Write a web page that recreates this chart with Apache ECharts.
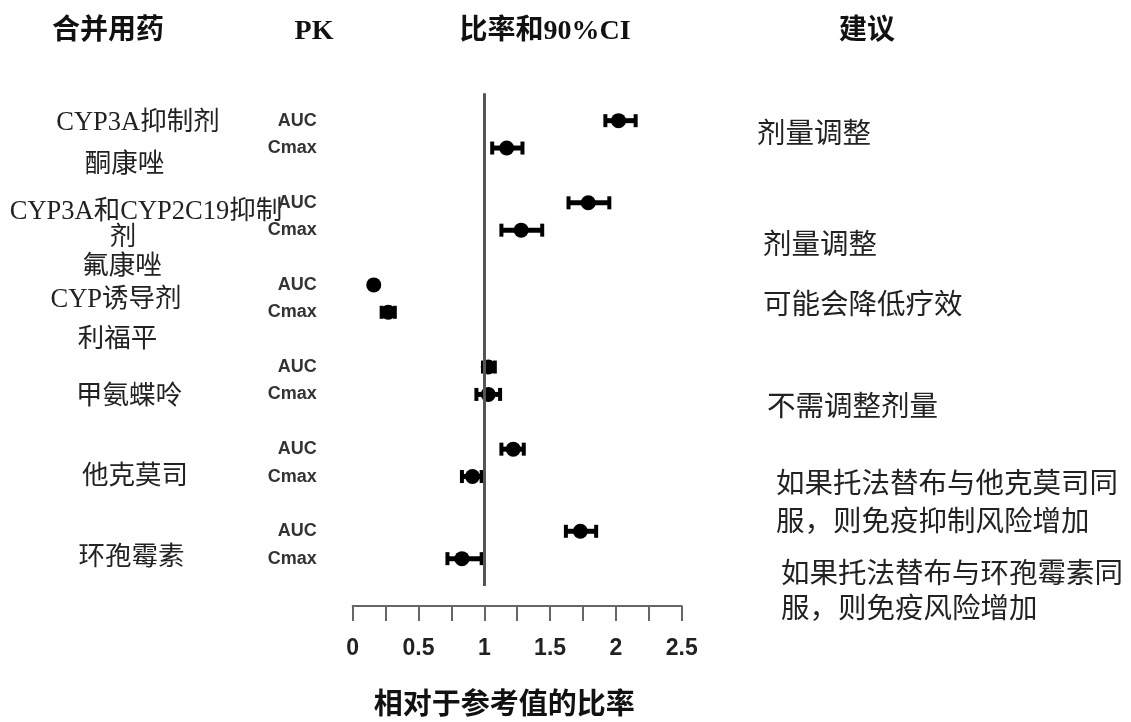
<!DOCTYPE html>
<html>
<head>
<meta charset="utf-8">
<script src="https://cdn.jsdelivr.net/npm/echarts@6/dist/echarts.min.js"></script>
<style>
html,body{margin:0;padding:0;background:#fff;overflow:hidden;}
#chart{width:1131px;height:722px;}
</style>
</head>
<body>
<div id="chart"></div>
<script>
// ---- data ----
const headers = ['合并用药', 'PK', '比率和90%CI', '建议'];
const rowLabels = ['AUC','Cmax','','AUC','Cmax','','AUC','Cmax','','AUC','Cmax','','AUC','Cmax','','AUC','Cmax'];
const rowIndex = [0, 1, 3, 4, 6, 7, 9, 10, 12, 13, 15, 16];
const ratio  = [2.02, 1.17, 1.79, 1.28, 0.16, 0.27, 1.03, 1.03, 1.22, 0.91, 1.73, 0.83];
const ciLow  = [1.92, 1.06, 1.64, 1.13, 0.158, 0.22, 0.99, 0.94, 1.13, 0.83, 1.62, 0.72];
const ciHigh = [2.15, 1.29, 1.95, 1.44, 0.165, 0.32, 1.08, 1.12, 1.30, 0.98, 1.85, 0.98];
const xTicks = [0, 0.5, 1, 1.5, 2, 2.5];
const xName = '相对于参考值的比率';
const leftTexts = ['CYP3A抑制剂', '酮康唑', 'CYP3A和CYP2C19抑制', '剂', '氟康唑', 'CYP诱导剂', '利福平', '甲氨蝶呤', '他克莫司', '环孢霉素'];
const rightTexts = ['剂量调整', '剂量调整', '可能会降低疗效', '不需调整剂量', '如果托法替布与他克莫司同', '服，则免疫抑制风险增加', '如果托法替布与环孢霉素同', '服，则免疫风险增加'];

// ---- layout (positions only) ----
const headerPos = [[108, 32], [314, 32], [545, 32], [867, 32]];
const leftPos = [[138,123],[124.5,165],[146,212],[123,238],[122,267],[116,300],[117.5,340],[129,397],[135,477],[131.5,558]];
const rightPos = [[757,132],[763,243],[763,303],[767,405],[776,482],[776,520],[781,572],[781,607]];

const chart = echarts.init(document.getElementById('chart'), null, {renderer: 'canvas', width: 1131, height: 722});

const pts = ratio.map((v, i) => [v, rowIndex[i]]);
const bars = ratio.map((v, i) => [ciLow[i], ciHigh[i], rowIndex[i]]);

const graphics = [];
headers.forEach((t, i) => graphics.push({
  type: 'text', x: headerPos[i][0], y: headerPos[i][1],
  style: { text: t, align: 'center', verticalAlign: 'middle', fontSize: 28, fontWeight: 'bold',
    fontFamily: '"Liberation Serif", "Noto Sans CJK SC", serif', fill: '#111' }
}));
leftTexts.forEach((t, i) => graphics.push({
  type: 'text', x: leftPos[i][0], y: leftPos[i][1],
  style: { text: t, align: 'center', verticalAlign: 'middle', fontSize: 26.5,
    fontFamily: '"Liberation Serif", "Noto Sans CJK SC", serif', fill: '#222' }
}));
rightTexts.forEach((t, i) => graphics.push({
  type: 'text', x: rightPos[i][0], y: rightPos[i][1],
  style: { text: t, align: 'left', verticalAlign: 'middle', fontSize: 28.5,
    fontFamily: '"Noto Sans CJK SC", sans-serif', fill: '#222' }
}));

const option = {
  animation: false,
  backgroundColor: '#fff',
  grid: { left: 352.7, width: 329, top: 93.3, height: 526.1, containLabel: false },
  xAxis: {
    type: 'value', min: 0, max: 2.5, interval: 0.25, position: 'bottom', offset: -7.4,
    name: xName, nameLocation: 'middle', nameGap: 82,
    nameTextStyle: { fontSize: 29, fontWeight: 'bold', color: '#111', fontFamily: '"Noto Sans CJK SC", sans-serif',
      padding: [0, 26, 0, 0] },
    axisLine: { show: true, onZero: false, lineStyle: { color: '#666', width: 2 } },
    axisTick: { show: true, length: 15, lineStyle: { color: '#666', width: 2 } },
    splitLine: { show: false },
    axisLabel: {
      margin: 31, fontSize: 23, fontWeight: 'bold', color: '#222',
      fontFamily: '"Liberation Sans", Arial, sans-serif',
      formatter: v => xTicks.some(t => Math.abs(t - v) < 1e-6) ? String(+v.toFixed(2)) : ''
    }
  },
  yAxis: {
    type: 'value', inverse: true, min: -1, max: 18, interval: 1,
    axisLine: { show: false }, axisTick: { show: false }, splitLine: { show: false },
    axisLabel: {
      margin: 36, fontSize: 18, fontWeight: 'bold', color: '#333',
      fontFamily: '"Liberation Sans", Arial, sans-serif',
      formatter: v => (Number.isInteger(v) && v >= 0 && rowLabels[v]) ? rowLabels[v] : ''
    }
  },
  series: [
    {
      type: 'custom',
      data: bars,
      z: 3,
      renderItem: (params, api) => {
        const lo = api.coord([api.value(0), api.value(2)]);
        const hi = api.coord([api.value(1), api.value(2)]);
        const capH = 6.5;
        const st = { stroke: '#000', lineWidth: 5 };
        const cst = { stroke: '#000', lineWidth: 4 };
        return {
          type: 'group',
          children: [
            { type: 'line', shape: { x1: lo[0], y1: lo[1], x2: hi[0], y2: hi[1] }, style: st },
            { type: 'line', shape: { x1: lo[0], y1: lo[1] - capH, x2: lo[0], y2: lo[1] + capH }, style: cst },
            { type: 'line', shape: { x1: hi[0], y1: hi[1] - capH, x2: hi[0], y2: hi[1] + capH }, style: cst }
          ]
        };
      }
    },
    {
      type: 'scatter',
      data: pts,
      symbol: 'circle',
      symbolSize: 15,
      itemStyle: { color: '#000', opacity: 1 },
      z: 4,
      markLine: {
        silent: true,
        symbol: ['none', 'none'],
        label: { show: false },
        lineStyle: { color: '#555', width: 3, type: 'solid' },
        data: [[{ coord: [1, -1] }, { coord: [1, 17] }]]
      }
    }
  ],
  graphic: graphics
};
chart.setOption(option);
</script>
</body>
</html>
